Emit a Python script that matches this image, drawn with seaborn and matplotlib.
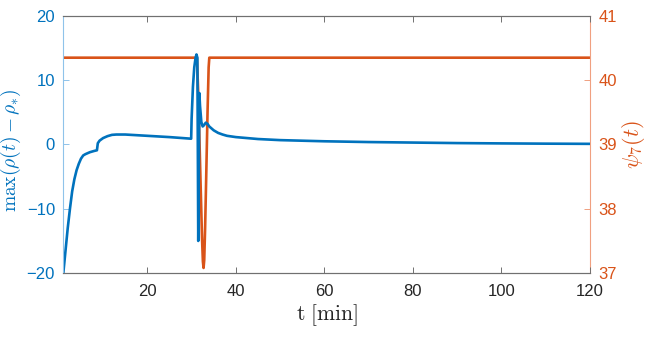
import matplotlib
matplotlib.use("Agg")
import matplotlib.pyplot as plt
import seaborn as sns
import numpy as np
import pandas as pd

# ---- data ----
t_rho = [1, 1.5, 2, 2.5, 3, 3.5, 4, 4.5, 5, 5.5, 6, 7, 8, 8.6, 8.8, 9.2, 10, 11, 12, 13, 15,
         20, 25, 29.9, 30.0, 30.3, 30.6, 30.9, 31.1, 31.3, 31.4, 31.5, 31.6, 31.75, 31.9, 32.2,
         32.5, 32.8, 33.2, 33.6, 34, 35, 36, 37, 38, 40, 45, 50, 60, 70, 80, 90, 100, 110, 120]
rho = [-20, -16.5, -13.0, -10.0, -7.3, -5.4, -4.0, -3.0, -2.2, -1.7, -1.5, -1.2, -1.0, -0.9, 0.2,
       0.6, 1.0, 1.3, 1.5, 1.55, 1.55, 1.35, 1.15, 0.9, 4.0, 9.0, 12.0, 13.5, 14.0, 13.5, 0.0,
       -15.0, -6.0, 8.0, 6.0, 3.5, 2.8, 3.0, 3.4, 3.2, 2.8, 2.2, 1.8, 1.55, 1.35, 1.15, 0.85,
       0.68, 0.5, 0.38, 0.3, 0.22, 0.17, 0.13, 0.1]

t_psi = [1, 31.2, 31.5, 31.8, 32.1, 32.35, 32.55, 32.7, 32.85, 33.05, 33.3, 33.6, 33.85, 34.0, 120]
psi = [40.35, 40.35, 39.8, 39.0, 38.2, 37.55, 37.18, 37.08, 37.2, 37.7, 38.5, 39.5, 40.2, 40.35, 40.35]

x_ticks = [20, 40, 60, 80, 100, 120]
left_ticks = [-20, -10, 0, 10, 20]
right_ticks = [37, 38, 39, 40, 41]

blue = "#0072BD"
orange = "#D95319"

sns.set_theme(style="white")
plt.rcParams["font.family"] = ["Liberation Sans", "DejaVu Sans"]
plt.rcParams["mathtext.fontset"] = "cm"

fig = plt.figure(figsize=(6.46, 3.38), dpi=100)
ax = fig.add_axes([0.098, 0.192, 0.815, 0.761])
ax2 = ax.twinx()

df1 = pd.DataFrame({"t": t_rho, "v": rho})
df2 = pd.DataFrame({"t": t_psi, "v": psi})
sns.lineplot(data=df1, x="t", y="v", ax=ax, color=blue, linewidth=1.9,
             sort=False, estimator=None)
sns.lineplot(data=df2, x="t", y="v", ax=ax2, color=orange, linewidth=1.9,
             sort=False, estimator=None)

ax.set_xlim(1, 120)
ax.set_ylim(-20, 20)
ax2.set_ylim(37, 41)
ax.set_xticks(x_ticks)
ax.set_yticks(left_ticks)
ax2.set_yticks(right_ticks)

ax.set_xlabel(r"$\mathrm{t\ [min]}$", fontsize=15.5, color="#262626", labelpad=2)
ax.set_ylabel(r"$\max(\rho(t)-\rho_{*})$", fontsize=14, color=blue)
ax.yaxis.set_label_coords(-0.077, 0.478)
ax2.set_ylabel(r"$\psi_7(t)$", fontsize=16, color=orange, labelpad=2)
ax2.set_xlabel("")

for a in (ax, ax2):
    for s in a.spines.values():
        s.set_visible(True)
        s.set_linewidth(0.8)
        s.set_color("#707070")
ax.spines["left"].set_color("#8fc3ea")
ax2.spines["left"].set_visible(False)
ax2.spines["right"].set_color("#f0a080")
ax.spines["right"].set_visible(False)

ax.tick_params(axis="x", direction="in", length=4, width=0.7, colors="#707070",
               labelcolor="#262626", labelsize=12, top=True, bottom=True, pad=8)
ax.tick_params(axis="y", direction="in", length=4, width=0.7, colors="#8fc3ea",
               labelcolor=blue, labelsize=12, left=True, right=False, pad=6)
ax2.tick_params(axis="y", direction="in", length=4, width=0.7, colors="#f0a080",
                labelcolor=orange, labelsize=12, right=True, left=False, pad=6)

ax.set_zorder(ax2.get_zorder() + 1)
ax.patch.set_visible(False)

fig.savefig("out.png", dpi=100)
